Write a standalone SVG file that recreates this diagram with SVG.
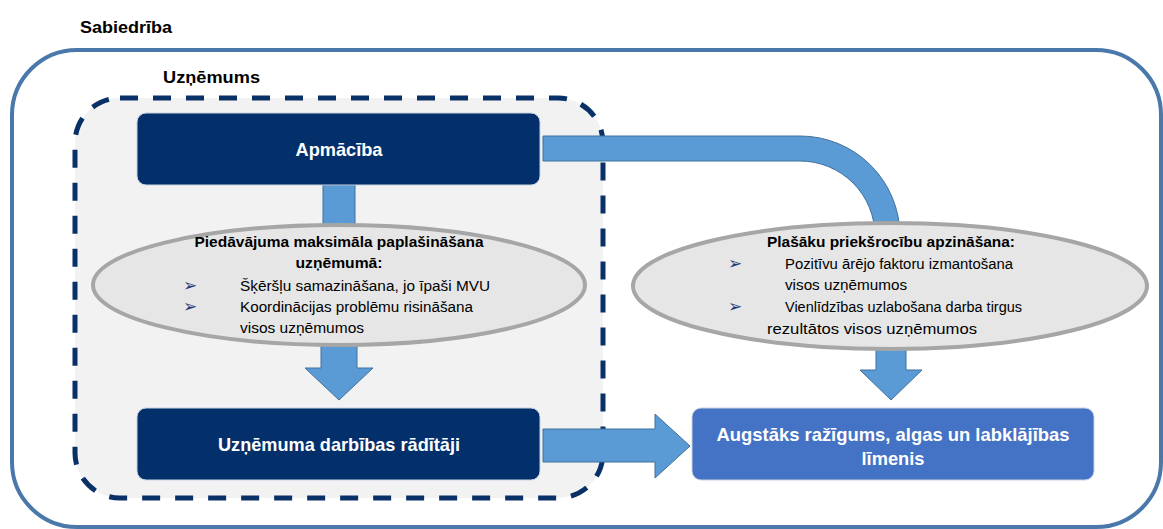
<svg xmlns="http://www.w3.org/2000/svg" width="1163" height="529" viewBox="0 0 1163 529">
<style>
.lbl{font-family:"Liberation Sans",Arial,sans-serif;font-weight:bold;font-size:17px;fill:#000}
.box{fill:#03306b;stroke:#c9d3e3;stroke-width:1}
.boxt{font-family:"Liberation Sans",Arial,sans-serif;font-weight:bold;font-size:18.5px;fill:#fff;text-anchor:middle}
.arrow{fill:#5b9bd5;stroke:#41719c;stroke-width:1}
.ell{fill:#e6e6e6;stroke:#a6a6a6;stroke-width:4}
.et{font-family:"Liberation Sans",Arial,sans-serif;font-size:15.5px;fill:#000}
.eb{font-weight:bold}
.bul{font-family:"DejaVu Sans",sans-serif;font-size:17px;fill:#1f3a78}
</style>
<g id="sabiedriba">
<rect x="12" y="50" width="1149" height="477" rx="65" fill="none" stroke="#4a78aa" stroke-width="4"/>
<text class="lbl" x="80" y="33" textLength="92" lengthAdjust="spacingAndGlyphs">Sabiedrība</text>
</g>
<g id="uznemums">
<rect x="75" y="98" width="528" height="400" rx="45" fill="#f2f2f2" stroke="#0a3068" stroke-width="5" stroke-dasharray="18 15"/>
<text class="lbl" x="163" y="83" textLength="97" lengthAdjust="spacingAndGlyphs">Uzņēmums</text>
</g>
<g id="connectors">
<path class="arrow" d="M543,136 L800,136 A100,100 0 0 1 900,236 L875,236 A75,75 0 0 0 800,161 L543,161 Z"/>
<rect class="arrow" x="323" y="185" width="32" height="50"/>
<polygon class="arrow" points="321,340 357,340 357,368 373,368 339,400 305,368 321,368"/>
<polygon class="arrow" points="876,340 906,340 906,370 922,370 891,400 860,370 876,370"/>
<polygon class="arrow" points="543,429 655,429 655,414 690,446 655,478 655,462 543,462"/>
</g>
<g id="apmaciba">
<rect class="box" x="137" y="113" width="403" height="72" rx="9"/>
<text class="boxt" x="339" y="156" textLength="87" lengthAdjust="spacingAndGlyphs">Apmācība</text>
</g>
<g id="piedavajums">
<ellipse class="ell" cx="339" cy="285" rx="246" ry="60"/>
<text class="et eb" x="339" y="247" text-anchor="middle" textLength="289" lengthAdjust="spacingAndGlyphs">Piedāvājuma maksimāla paplašināšana</text>
<text class="et eb" x="339" y="268" text-anchor="middle" textLength="87" lengthAdjust="spacingAndGlyphs">uzņēmumā:</text>
<text class="bul" x="183" y="291">➢</text>
<text class="et" x="240" y="291" textLength="250" lengthAdjust="spacingAndGlyphs">Šķēršļu samazināšana, jo īpaši MVU</text>
<text class="bul" x="183" y="312">➢</text>
<text class="et" x="240" y="312" textLength="233" lengthAdjust="spacingAndGlyphs">Koordinācijas problēmu risināšana</text>
<text class="et" x="240" y="333" textLength="124" lengthAdjust="spacingAndGlyphs">visos uzņēmumos</text>
</g>
<g id="plasaku">
<ellipse class="ell" cx="890" cy="286" rx="257" ry="63"/>
<text class="et eb" x="767" y="247" textLength="248" lengthAdjust="spacingAndGlyphs">Plašāku priekšrocību apzināšana:</text>
<text class="bul" x="728" y="269">➢</text>
<text class="et" x="785" y="269" textLength="228" lengthAdjust="spacingAndGlyphs">Pozitīvu ārējo faktoru izmantošana</text>
<text class="et" x="785" y="290" textLength="122" lengthAdjust="spacingAndGlyphs">visos uzņēmumos</text>
<text class="bul" x="728" y="312">➢</text>
<text class="et" x="785" y="312" textLength="237" lengthAdjust="spacingAndGlyphs">Vienlīdzības uzlabošana darba tirgus</text>
<text class="et" x="767" y="334" textLength="210" lengthAdjust="spacingAndGlyphs">rezultātos visos uzņēmumos</text>
</g>
<g id="raditaji">
<rect class="box" x="137" y="408" width="403" height="72" rx="9"/>
<text class="boxt" x="339" y="451" textLength="242" lengthAdjust="spacingAndGlyphs">Uzņēmuma darbības rādītāji</text>
</g>
<g id="augstaks">
<rect x="692" y="408" width="402" height="72" rx="9" fill="#4472c4" stroke="#c9d3e3" stroke-width="1"/>
<text class="boxt" x="893" y="441" textLength="353" lengthAdjust="spacingAndGlyphs">Augstāks ražīgums, algas un labklājības</text>
<text class="boxt" x="893" y="465" textLength="63" lengthAdjust="spacingAndGlyphs">līmenis</text>
</g>
</svg>
